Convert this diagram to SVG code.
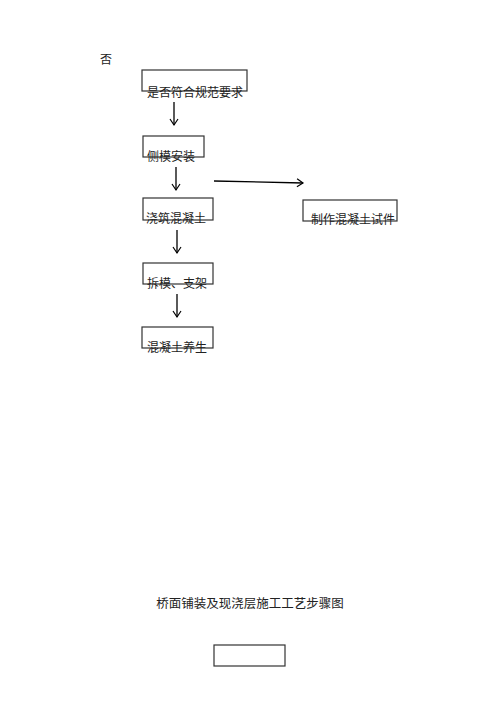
<svg xmlns="http://www.w3.org/2000/svg" width="500" height="707" viewBox="0 0 500 707">
<defs>
<marker id="ah" markerWidth="10" markerHeight="10" refX="8" refY="5" orient="auto" markerUnits="userSpaceOnUse">
<path d="M2,1 L8,5 L2,9" fill="none" stroke="#000" stroke-width="1.2"/>
</marker>
<style>
.box{fill:#fff;stroke:#333;stroke-width:1.2}
.t{font-family:"Liberation Serif","Noto Sans CJK SC",serif;font-size:12px;fill:#222}
.c{stroke:#000;stroke-width:1.3;fill:none;marker-end:url(#ah)}
</style>
</defs>
<rect width="500" height="707" fill="#fff"/>
<text class="t" x="100" y="64">否</text>
<g id="n1"><rect class="box" x="142" y="70" width="105" height="21"/><text class="t" x="147" y="97">是否符合规范要求</text></g>
<g id="n2"><rect class="box" x="143" y="136" width="61" height="21"/><text class="t" x="147" y="161">侧模安装</text></g>
<g id="n3"><rect class="box" x="143" y="198" width="70" height="22"/><text class="t" x="146" y="223">浇筑混凝土</text></g>
<g id="n4"><rect class="box" x="303" y="200" width="94" height="21"/><text class="t" x="311" y="224">制作混凝土试件</text></g>
<g id="n5"><rect class="box" x="143" y="263" width="70" height="21"/><text class="t" x="147" y="288">拆模、支架</text></g>
<g id="n6"><rect class="box" x="142" y="327" width="71" height="21"/><text class="t" x="147" y="352">混凝土养生</text></g>
<g id="n7"><rect class="box" x="214" y="645" width="71" height="21"/></g>
<text class="t" x="250" y="608" text-anchor="middle" style="font-size:12.5px">桥面铺装及现浇层施工工艺步骤图</text>
<g id="connectors">
<line class="c" x1="174" y1="102" x2="174" y2="125"/>
<line class="c" x1="176" y1="167" x2="176" y2="190"/>
<line class="c" x1="214" y1="181" x2="303" y2="183"/>
<line class="c" x1="177" y1="230" x2="177" y2="253"/>
<line class="c" x1="177" y1="294" x2="177" y2="317"/>
</g>
</svg>
